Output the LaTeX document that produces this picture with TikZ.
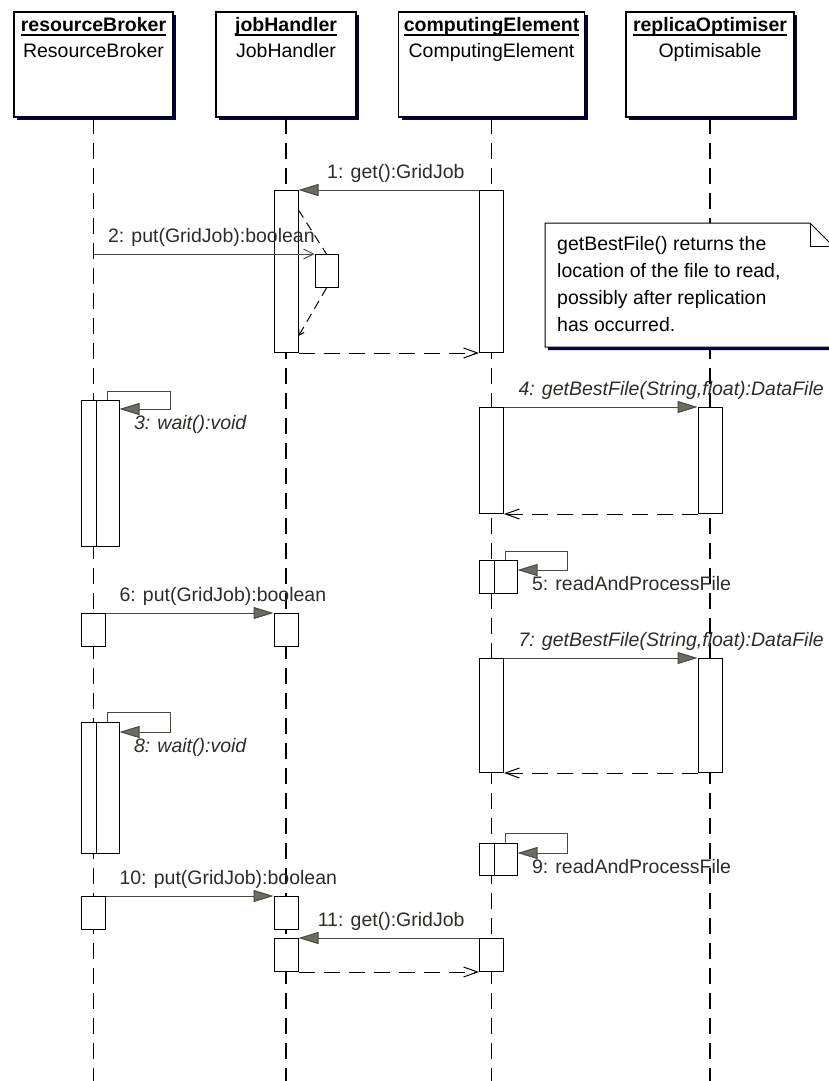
\documentclass[tikz,border=0pt]{standalone}
\usepackage{fontspec}
\setmainfont{Liberation Sans}
\usetikzlibrary{arrows.meta,shadows}
\definecolor{shadownavy}{RGB}{0,0,80}
\definecolor{msgline}{RGB}{72,74,62}
\definecolor{tipgray}{RGB}{108,108,96}
\definecolor{lblgray}{RGB}{45,45,40}
\newcommand{\objname}[1]{\setbox0\hbox{\textbf{#1}}\rlap{\rule[-4pt]{\wd0}{1.6pt}}\box0}

\begin{document}
\begin{tikzpicture}[x=1pt,y=-1pt,font=\fontsize{19.5}{27}\selectfont,
    head/.style={draw,line width=1.2pt,fill=white,minimum width=#1,minimum height=105pt,inner sep=0pt,
      drop shadow={shadow xshift=3pt,shadow yshift=-3pt,fill=shadownavy,opacity=1}},
    bar/.style={draw,line width=1pt,fill=white,minimum width=24pt,minimum height=#1,inner sep=0pt,anchor=north},
    life/.style={line width=1.2pt,dash pattern=on 16pt off 9pt},
    msg/.style={draw=msgline,line width=1pt,-{Triangle[length=20pt,width=12pt,fill=tipgray]}},
    call/.style={draw=msgline,line width=1pt,-{Straight Barb[length=10pt,width=10pt]}},
    reply/.style={line width=1pt,dash pattern=on 16pt off 9pt,-{Straight Barb[length=14pt,width=10pt]}},
    lbl/.style={text=lblgray,inner sep=0pt}]
    \useasboundingbox (0,0) rectangle (829,1081);
    \clip (0,0) rectangle (829,1081);
    \fill[white] (0,0) rectangle (829,1081);

    \node[head=159pt] (rbH) at (93.5,64.5) {};
    \node[head=140pt] (jhH) at (286,64.5) {};
    \node[head=186pt] (ceH) at (491.5,64.5) {};
    \node[head=168pt] (roH) at (710,64.5) {};
    \node[anchor=base,inner sep=0pt] (rbN) at (93.5,32) {\objname{resourceBroker}};
    \node[anchor=base,inner sep=0pt] (rbC) at (93.5,58) {ResourceBroker};
    \node[anchor=base,inner sep=0pt] (jhN) at (286,32) {\objname{jobHandler}};
    \node[anchor=base,inner sep=0pt] (jhC) at (286,58) {JobHandler};
    \node[anchor=base,inner sep=0pt] (ceN) at (491.5,32) {\objname{computingElement}};
    \node[anchor=base,inner sep=0pt] (ceC) at (491.5,58) {ComputingElement};
    \node[anchor=base,inner sep=0pt] (roN) at (710,32) {\objname{replicaOptimiser}};
    \node[anchor=base,inner sep=0pt] (roC) at (710,58) {Optimisable};

    \coordinate (bottom) at (0,1081);
    \foreach \obj in {rb,jh,ce,ro} {\draw[life] (\obj H.south) -- (\obj H.south |- bottom);}

    \path[draw,line width=1pt,fill=white,drop shadow={shadow xshift=3pt,shadow yshift=-3pt,fill=shadownavy,opacity=1}]
        (545,223) -- (810,223) -- (833,246) -- (833,347) -- (545,347) -- cycle;
    \draw[line width=1pt] (810,223) |- (833,246);
    \node[anchor=north west,align=left,inner sep=0pt] (noteT) at (557,236)
        {getBestFile() returns the\\location of the file to read,\\possibly after replication\\has occurred.};

    % 1 + 2
    \node[bar=162pt] (jh1) at (286,190) {};
    \node[bar=162pt] (ce1) at (491.5,190) {};
    \node[bar=33pt,minimum width=23pt] (jh1b) at (326.5,254) {};
    \draw[msg] (ce1.north west) -- (jh1.north east) node[lbl,pos=0,anchor=base east,xshift=-14pt,yshift=12pt] {1: get():GridJob};
    \coordinate (m2) at (93.5,254);
    \draw[call] (m2) -- (jh1b.north west) node[lbl,pos=0,anchor=base west,xshift=14pt,yshift=12pt] {2: put(GridJob):boolean};
    \draw[line width=1pt,dash pattern=on 9pt off 6pt] ([yshift=-20pt]jh1.north east) -- (jh1b.north);
    \draw[line width=1pt,dash pattern=on 9pt off 6pt,-{Straight Barb[length=5pt,width=6pt]}] (jh1b.south) -- ([yshift=17pt]jh1.south east);
    \draw[reply] (jh1.south east) -- (ce1.south west);

    % 3
    \node[bar=146pt] (rb3) at (93.5,400) {};
    \node[bar=146pt,minimum width=23pt] (rb3b) at (107.5,400) {};
    \draw[msg] (rb3b.north) -- ++(0,-9) -- ++(63,0) -- ++(0,18) -- ([yshift=-9pt]rb3b.north east)
        node[lbl,anchor=base west,xshift=14pt,yshift=-20pt] {\itshape 3: wait():void};

    % 4
    \node[bar=106pt] (ce4) at (491.5,407) {};
    \node[bar=106pt] (ro4) at (710,407) {};
    \draw[msg] (ce4.north east) -- (ro4.north west) node[lbl,pos=0,anchor=base west,xshift=14pt,yshift=12pt] {\itshape 4: getBestFile(String,float):DataFile};
    \draw[reply] (ro4.south west) -- (ce4.south east);

    % 5
    \node[bar=33pt] (ce5) at (491.5,560) {};
    \node[bar=33pt,minimum width=23pt] (ce5b) at (505.5,560) {};
    \draw[msg] (ce5b.north) -- ++(0,-9) -- ++(62,0) -- ++(0,19) -- ([yshift=-10pt]ce5b.north east)
        node[lbl,anchor=base west,xshift=14pt,yshift=-20pt] {5: readAndProcessFile};

    % 6
    \node[bar=33pt] (rb6) at (93.5,613) {};
    \node[bar=33pt] (jh6) at (286,613) {};
    \draw[msg] (rb6.north east) -- (jh6.north west) node[lbl,pos=0,anchor=base west,xshift=13pt,yshift=12pt] {6: put(GridJob):boolean};

    % 7
    \node[bar=114pt] (ce7) at (491.5,658) {};
    \node[bar=114pt] (ro7) at (710,658) {};
    \draw[msg] (ce7.north east) -- (ro7.north west) node[lbl,pos=0,anchor=base west,xshift=14pt,yshift=12pt] {\itshape 7: getBestFile(String,float):DataFile};
    \draw[reply] (ro7.south west) -- (ce7.south east);

    % 8
    \node[bar=131pt] (rb8) at (93.5,722) {};
    \node[bar=131pt,minimum width=23pt] (rb8b) at (107.5,722) {};
    \draw[msg] (rb8b.north) -- ++(0,-10) -- ++(63,0) -- ++(0,20) -- ([yshift=-10pt]rb8b.north east)
        node[lbl,anchor=base west,xshift=14pt,yshift=-20pt] {\itshape 8: wait():void};

    % 9
    \node[bar=32pt] (ce9) at (491.5,843) {};
    \node[bar=32pt,minimum width=23pt] (ce9b) at (505.5,843) {};
    \draw[msg] (ce9b.north) -- ++(0,-10) -- ++(62,0) -- ++(0,20) -- ([yshift=-10pt]ce9b.north east)
        node[lbl,anchor=base west,xshift=14pt,yshift=-20pt] {9: readAndProcessFile};

    % 10 + 11
    \node[bar=33pt] (rb10) at (93.5,896) {};
    \node[bar=33pt] (jh10) at (286,896) {};
    \draw[msg] (rb10.north east) -- (jh10.north west) node[lbl,pos=0,anchor=base west,xshift=13pt,yshift=12pt] {10: put(GridJob):boolean};
    \node[bar=33pt] (jh11) at (286,938) {};
    \node[bar=33pt] (ce11) at (491.5,938) {};
    \draw[msg] (ce11.north west) -- (jh11.north east) node[lbl,pos=0,anchor=base east,xshift=-14pt,yshift=12pt] {11: get():GridJob};
    \draw[reply] (jh11.south east) -- (ce11.south west);
\end{tikzpicture}
\end{document}
